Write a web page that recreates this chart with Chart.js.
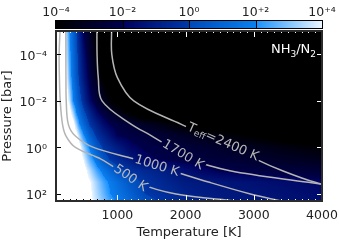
<!DOCTYPE html>
<html>
<head>
<meta charset="utf-8">
<script src="https://cdn.jsdelivr.net/npm/chart.js@4.4.1/dist/chart.umd.min.js"></script>
<style>
  html, body { margin: 0; padding: 0; background: #fff; }
</style>
</head>
<body>
<canvas id="c" width="339" height="242"></canvas>
<script>
// log10(NH3/N2): one row per pressure, one column per temperature
const temps = [100, 200, 250, 300, 350, 400, 450, 500, 600, 700, 800, 900, 1000, 1200, 1400, 1700, 2000, 2500, 3000, 3500, 4000];
const pressures = [1e-5, 1e-4, 1e-3, 3.16e-3, 1e-2, 3.16e-2, 0.1, 0.316, 1, 3.16, 10, 31.6, 100, 200];
const logRatio = [
  [4.5, 4.5, 3.54, 2.0, 1.0, 0.0, -1.0, -2.0, -3.07, -4.14, -5, -5, -5, -5, -5, -5, -5, -5, -5, -5, -5],
  [4.5, 4.5, 3.85, 2.31, 1.24, 0.29, -0.61, -1.48, -2.75, -3.82, -4.89, -5, -5, -5, -5, -5, -5, -5, -5, -5, -5],
  [4.5, 4.5, 4.33, 2.67, 1.45, 0.55, -0.31, -1.08, -2.38, -3.31, -4.25, -5, -5, -5, -5, -5, -5, -5, -5, -5, -5],
  [4.5, 4.5, 4.5, 3.17, 1.74, 0.87, 0.0, -0.71, -2.08, -2.83, -3.58, -4.33, -5, -5, -5, -5, -5, -5, -5, -5, -5],
  [4.5, 4.5, 4.5, 3.67, 2.0, 1.17, 0.33, -0.4, -1.73, -2.52, -3.17, -3.83, -4.48, -5, -5, -5, -5, -5, -5, -5, -5],
  [4.5, 4.5, 4.5, 4.5, 3.38, 1.92, 1.12, 0.32, -0.8, -1.8, -2.36, -2.82, -3.27, -4.18, -5, -5, -5, -5, -5, -5, -5],
  [4.5, 4.5, 4.5, 4.5, 4.5, 3.23, 1.86, 1.14, -0.15, -0.89, -1.63, -2.09, -2.28, -2.66, -3.03, -3.59, -4.16, -5, -5, -5, -5],
  [4.5, 4.5, 4.5, 4.5, 4.5, 4.44, 3.33, 2.22, 0.8, -0.24, -0.82, -1.41, -2.0, -2.21, -2.41, -2.72, -3.03, -3.55, -4.07, -4.59, -5],
  [4.5, 4.5, 4.5, 4.5, 4.5, 4.5, 4.26, 3.39, 1.76, 0.59, -0.2, -0.6, -1.0, -1.8, -2.1, -2.31, -2.52, -2.87, -3.22, -3.57, -3.92],
  [4.5, 4.5, 4.5, 4.5, 4.5, 4.5, 4.5, 4.0, 2.57, 1.43, 0.48, -0.17, -0.5, -1.17, -1.83, -2.13, -2.28, -2.54, -2.79, -3.05, -3.3],
  [4.5, 4.5, 4.5, 4.5, 4.5, 4.5, 4.5, 4.5, 3.51, 2.43, 1.61, 0.97, 0.32, -0.24, -0.56, -0.96, -1.52, -2.07, -2.25, -2.42, -2.6],
  [4.5, 4.5, 4.5, 4.5, 4.5, 4.5, 4.5, 4.5, 4.08, 3.25, 2.42, 1.78, 1.33, 0.44, -0.17, -0.67, -1.04, -1.23, -1.42, -1.61, -1.8],
  [4.5, 4.5, 4.5, 4.5, 4.5, 4.5, 4.5, 4.5, 4.18, 3.45, 2.73, 2.0, 1.6, 0.8, 0.0, -0.4, -0.8, -1.11, -1.28, -1.44, -1.6],
  [4.5, 4.5, 4.5, 4.5, 4.5, 4.5, 4.5, 4.5, 4.26, 3.61, 2.97, 2.32, 1.82, 1.09, 0.36, -0.22, -0.56, -1.03, -1.19, -1.34, -1.5]
];

// pressure-temperature profiles (temperature at each pressure)
const profilePressures = [1e-5, 1e-4, 1e-3, 1e-2, 0.1, 0.316, 1, 3.16, 10, 31.6, 100, 200];
const teff500 = [159, 146, 150, 162, 195, 245, 385, 760, 1030, 1280, 1860, 2750];
const teff1000 = [245, 245, 246, 250, 280, 380, 650, 1250, 1800, 2350, 2950, 3400];
const teff1700 = [700, 702, 720, 775, 1200, 1500, 1780, 2060, 2650, 3800, 5000, 5700];
const teff2400 = [915, 918, 1000, 1240, 1930, 2330, 2720, 3030, 3420, 3900, 4600, 5000];
const profileLabels = ['500 K', '1000 K', '1700 K', '2400 K'];

// ticks
const xTicks = [1000, 2000, 3000, 4000];
const yTicks = [1e-4, 1e-2, 1, 100];
const yTickLabels = ['10⁻⁴', '10⁻²', '10⁰', '10²'];
const cbTicks = [-4, -2, 0, 2, 4];
const cbTickLabels = ['10⁻⁴', '10⁻²', '10⁰', '10⁺²', '10⁺⁴'];

Chart.defaults.font.family = 'DejaVu Sans';
Chart.defaults.color = '#222';

// colour table, one piece per two decades
const cmap = [
  [-4, -2, [0, 0, 0], [0, 0, 76]],
  [-2, 0, [0, 0, 92], [0, 56, 168]],
  [0, 2, [0, 72, 184], [10, 128, 240]],
  [2, 4, [24, 144, 255], [236, 246, 255]]
];
function colorFor(v) {
  if (v >= 4) return [255, 255, 255];
  if (v <= -4) return [0, 0, 0];
  for (const [a, b, c0, c1] of cmap) {
    if (v >= a && v <= b) {
      const t = (v - a) / (b - a);
      return [0, 1, 2].map(k => Math.round(c0[k] + (c1[k] - c0[k]) * t));
    }
  }
  return [0, 0, 0];
}

const logPs = pressures.map(p => Math.log10(p));
function findCell(arr, v) {
  if (v <= arr[0]) return [0, 0];
  if (v >= arr[arr.length - 1]) return [arr.length - 2, 1];
  let i = 0;
  while (arr[i + 1] < v) i++;
  return [i, (v - arr[i]) / (arr[i + 1] - arr[i])];
}
function valueAt(t, lp) {
  const [i, fx] = findCell(temps, t);
  const [j, fy] = findCell(logPs, lp);
  const a = logRatio[j][i], b = logRatio[j][i + 1];
  const c = logRatio[j + 1][i], d = logRatio[j + 1][i + 1];
  return (a * (1 - fx) + b * fx) * (1 - fy) + (c * (1 - fx) + d * fx) * fy;
}

let heatCanvas = null;

const heatmapPlugin = {
  id: 'heatmap',
  beforeDatasetsDraw(chart) {
    const { ctx, chartArea: a, scales: { x, y } } = chart;
    const L = Math.round(a.left), T = Math.round(a.top);
    const W = Math.round(a.right) - L, H = Math.round(a.bottom) - T;
    heatCanvas = document.createElement('canvas');
    heatCanvas.width = W;
    heatCanvas.height = H;
    const hctx = heatCanvas.getContext('2d');
    const img = hctx.createImageData(W, H);
    for (let py = 0; py < H; py++) {
      const lp = Math.log10(y.getValueForPixel(T + py + 0.5));
      for (let px = 0; px < W; px++) {
        const t = x.getValueForPixel(L + px + 0.5);
        const col = colorFor(valueAt(t, lp));
        const k = (py * W + px) * 4;
        img.data[k] = col[0];
        img.data[k + 1] = col[1];
        img.data[k + 2] = col[2];
        img.data[k + 3] = 255;
      }
    }
    hctx.putImageData(img, 0, 0);
    ctx.drawImage(heatCanvas, L, T);
  }
};

function profileTempAt(temps, p) {
  const lps = profilePressures.map(q => Math.log10(q));
  const [i, f] = findCell(lps, Math.log10(p));
  return temps[i] + (temps[i + 1] - temps[i]) * f;
}

const overlayPlugin = {
  id: 'overlay',
  afterDatasetsDraw(chart) {
    const { ctx, chartArea: a, scales: { x, y } } = chart;
    const L = Math.round(a.left), T = Math.round(a.top);

    // labels on the profiles
    const spots = [21, 6.3, 2.1, 0.6];
    const lines = [teff500, teff1000, teff1700, teff2400];
    ctx.save();
    ctx.beginPath();
    ctx.rect(a.left, a.top, a.right - a.left, a.bottom - a.top);
    ctx.clip();
    lines.forEach((tArr, n) => {
      const p = spots[n];
      const px = x.getPixelForValue(profileTempAt(tArr, p));
      const py = y.getPixelForValue(p);
      const p0 = p / 1.5, p1 = p * 1.5;
      const ang = Math.atan2(y.getPixelForValue(p1) - y.getPixelForValue(p0),
        x.getPixelForValue(profileTempAt(tArr, p1)) - x.getPixelForValue(profileTempAt(tArr, p0)));
      const big = '13px DejaVu Sans', small = '9px DejaVu Sans';
      const parts = n === 3
        ? [['T', big, 0], ['eff', small, 3], ['=' + profileLabels[n], big, 0]]
        : [[profileLabels[n], big, 0]];
      let w = 0;
      parts.forEach(pt => { ctx.font = pt[1]; w += ctx.measureText(pt[0]).width; });
      ctx.save();
      ctx.translate(px, py);
      ctx.rotate(ang);
      ctx.beginPath();
      ctx.rect(-w / 2 - 2, -6, w + 4, 12);
      ctx.restore();
      ctx.save();
      ctx.clip();
      ctx.drawImage(heatCanvas, L, T);
      ctx.restore();
      ctx.save();
      ctx.translate(px, py);
      ctx.rotate(ang);
      ctx.fillStyle = '#b8b8b8';
      ctx.textBaseline = 'middle';
      let cx = -w / 2;
      parts.forEach(pt => {
        ctx.font = pt[1];
        ctx.fillText(pt[0], cx, pt[2]);
        cx += ctx.measureText(pt[0]).width;
      });
      ctx.restore();
    });
    ctx.restore();

    // inward tick marks, dark on light ground and light on dark ground
    const tickColor = (t, p) => valueAt(t, Math.log10(p)) > 2.8 ? '#000' : '#fff';
    ctx.save();
    ctx.lineWidth = 1;
    for (let t = 100; t <= 4000; t += 100) {
      const px = Math.round(x.getPixelForValue(t)) + 0.5;
      const len = xTicks.includes(t) ? 6 : 2;
      ctx.strokeStyle = tickColor(t, 200);
      ctx.beginPath(); ctx.moveTo(px, a.bottom); ctx.lineTo(px, a.bottom - len); ctx.stroke();
      ctx.strokeStyle = tickColor(t, 1e-5);
      ctx.beginPath(); ctx.moveTo(px, a.top); ctx.lineTo(px, a.top + len); ctx.stroke();
    }
    yTicks.forEach(p => {
      const py = Math.round(y.getPixelForValue(p)) + 0.5;
      ctx.strokeStyle = tickColor(100, p);
      ctx.beginPath(); ctx.moveTo(a.left, py); ctx.lineTo(a.left + 5, py); ctx.stroke();
      ctx.strokeStyle = tickColor(4000, p);
      ctx.beginPath(); ctx.moveTo(a.right, py); ctx.lineTo(a.right - 5, py); ctx.stroke();
    });
    ctx.restore();

    // frame
    ctx.save();
    ctx.strokeStyle = '#2b2b2b';
    ctx.lineWidth = 2;
    ctx.strokeRect(a.left, a.top, a.right - a.left, a.bottom - a.top);
    ctx.restore();

    // species label
    ctx.save();
    ctx.fillStyle = '#fff';
    ctx.textBaseline = 'alphabetic';
    const segs = [['NH', '13px DejaVu Sans', 0], ['3', '9px DejaVu Sans', 4], ['/N', '13px DejaVu Sans', 0], ['2', '9px DejaVu Sans', 4]];
    let sw = 0;
    segs.forEach(s => { ctx.font = s[1]; sw += ctx.measureText(s[0]).width; });
    let sx = a.right - 6 - sw;
    segs.forEach(s => {
      ctx.font = s[1];
      ctx.fillText(s[0], sx, a.top + 22 + s[2]);
      sx += ctx.measureText(s[0]).width;
    });
    ctx.restore();
  },
  afterDraw(chart) {
    // colour bar along the top axis
    const { ctx, scales: { c } } = chart;
    const top = 20.5, h = 8;
    ctx.save();
    for (let px = Math.round(c.left); px < Math.round(c.right); px++) {
      const col = colorFor(Math.min(3.999, c.getValueForPixel(px + 0.5)));
      ctx.fillStyle = `rgb(${col[0]},${col[1]},${col[2]})`;
      ctx.fillRect(px, top, 1, h);
    }
    ctx.strokeStyle = '#000';
    ctx.lineWidth = 1;
    cbTicks.slice(1, -1).forEach(v => {
      const px = Math.round(c.getPixelForValue(v)) + 0.5;
      ctx.beginPath(); ctx.moveTo(px, top); ctx.lineTo(px, top + h); ctx.stroke();
    });
    ctx.strokeRect(Math.round(c.left) - 0.5, top, Math.round(c.right) - Math.round(c.left) + 1, h);
    ctx.restore();
  }
};

const lineStyle = { showLine: true, borderColor: '#b4b4b4', borderWidth: 1.5, pointRadius: 0, tension: 0.35, fill: false };
const toPoints = arr => profilePressures.map((p, i) => ({ x: arr[i], y: p }));

new Chart(document.getElementById('c'), {
  type: 'scatter',
  data: {
    datasets: [
      { label: profileLabels[0], data: toPoints(teff500), ...lineStyle },
      { label: profileLabels[1], data: toPoints(teff1000), ...lineStyle },
      { label: profileLabels[2], data: toPoints(teff1700), ...lineStyle },
      { label: profileLabels[3], data: toPoints(teff2400), ...lineStyle }
    ]
  },
  options: {
    responsive: false,
    animation: false,
    devicePixelRatio: 1,
    layout: { padding: { left: 0, right: 17, top: 0, bottom: 0 } },
    plugins: { legend: { display: false }, tooltip: { enabled: false } },
    scales: {
      x: {
        type: 'linear', position: 'bottom', min: 100, max: 4000,
        grid: { display: false, drawTicks: false }, border: { display: false },
        afterBuildTicks: s => { s.ticks = xTicks.map(v => ({ value: v })); },
        afterFit: s => { s.height = 41; s.paddingLeft = 0; s.paddingRight = 0; },
        ticks: { font: { size: 12.5 }, padding: 7.5, maxRotation: 0, autoSkip: false, callback: v => String(v) },
        title: { display: true, text: 'Temperature [K]', font: { size: 13 }, padding: { top: 0, bottom: 2 } }
      },
      y: {
        type: 'logarithmic', position: 'left', min: 1e-5, max: 200, reverse: true,
        grid: { display: false, drawTicks: false }, border: { display: false },
        afterBuildTicks: s => { s.ticks = yTicks.map(v => ({ value: v })); },
        afterFit: s => { s.width = 56; s.paddingTop = 0; s.paddingBottom = 0; },
        ticks: { font: { size: 12.5 }, padding: 9, labelOffset: 2, autoSkip: false,
          callback: v => yTickLabels[yTicks.indexOf(v)] },
        title: { display: true, text: 'Pressure [bar]', font: { size: 13 }, padding: { top: 0, bottom: 0 } }
      },
      c: {
        type: 'linear', position: 'top', min: -4, max: 4,
        grid: { display: false, drawTicks: false }, border: { display: false },
        afterBuildTicks: s => { s.ticks = cbTicks.map(v => ({ value: v })); },
        afterFit: s => { s.height = 31; s.paddingLeft = 0; s.paddingRight = 0; },
        ticks: { font: { size: 12.5 }, padding: 10.5, maxRotation: 0, autoSkip: false,
          callback: v => cbTickLabels[cbTicks.indexOf(v)] }
      }
    }
  },
  plugins: [heatmapPlugin, overlayPlugin]
});
</script>
</body>
</html>
